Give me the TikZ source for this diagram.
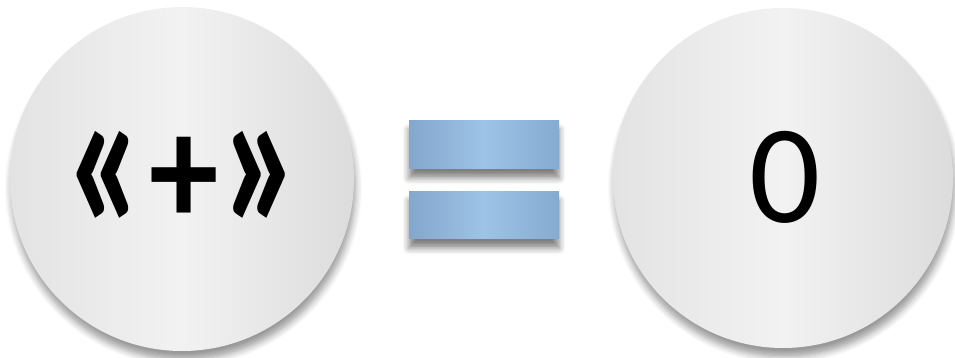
\documentclass[tikz,border=0pt]{standalone}
\usepackage{fontspec}
\setmainfont{Carlito}
\usepackage{xcolor}
\usepackage{tikz}
\usetikzlibrary{shadows.blur}
\definecolor{discedge}{HTML}{E3E3E3}
\definecolor{discmid}{HTML}{F2F2F2}
\definecolor{discright}{HTML}{DCDCDC}
\definecolor{barleft}{HTML}{84A7CC}
\definecolor{barmid}{HTML}{9DC3E6}
\definecolor{barright}{HTML}{86ABD1}
% tall guillemets, centred on the plus
\newcommand{\tallq}[1]{\vcenter{\hbox{\scalebox{1.2}[1.76]{#1}}}}

\begin{document}
\begin{tikzpicture}[
  x=1cm,y=1cm,
  disc/.style={circle,inner sep=0pt,left color=discedge,right color=discright,middle color=discmid,
    blur shadow={shadow xshift=0.4pt,shadow yshift=-2.5pt,shadow blur steps=6,shadow opacity=40}},
  bar/.style={rectangle,inner sep=0pt,minimum width=1.50cm,left color=barleft,right color=barright,middle color=barmid,
    blur shadow={shadow xshift=0pt,shadow yshift=-2.5pt,shadow blur steps=5,shadow opacity=50}},
  sign/.style={font=\fontsize{40}{44}\selectfont,inner sep=0pt}
]
\useasboundingbox (0,0) rectangle (9.55,3.58);
\node[disc,minimum size=3.44cm] (plusdisc) at (1.82,1.79) {};
\node[disc,minimum size=3.40cm] (zerodisc) at (7.83,1.80) {};
\node[sign,font=\fontsize{36}{40}\selectfont\bfseries] (plussign) at (1.84,1.765)
  {$\tallq{«}\hspace{0.5pt}\vcenter{\hbox{\scalebox{1.1}[1.26]{+}}}\hspace{0.5pt}\tallq{»}$};
\node[sign] (zero) at (7.855,1.81) {0};

\node[bar,minimum height=0.48cm] (topbar) at (4.84,2.13) {};
\node[bar,minimum height=0.47cm] (lowbar) at (4.84,1.425) {};
\end{tikzpicture}
\end{document}
